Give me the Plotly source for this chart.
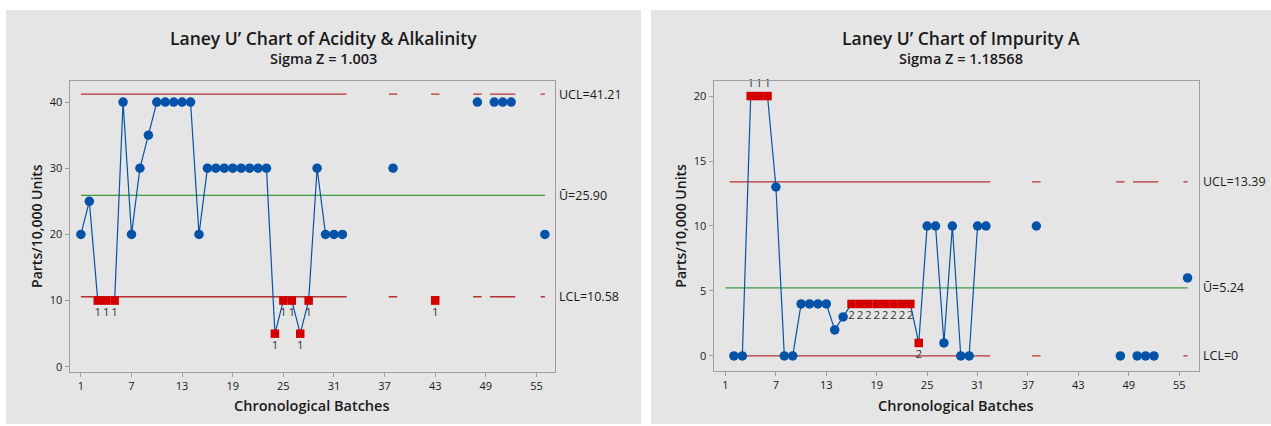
import plotly.graph_objects as go

# ---------------- data ----------------
batches = list(range(1, 57))
tick_batches = [1, 7, 13, 19, 25, 31, 37, 43, 49, 55]

acid_values = [20, 25, 10, 10, 10, 40, 20, 30, 35, 40, 40, 40, 40, 40, 20, 30,
               30, 30, 30, 30, 30, 30, 30, 5, 10, 10, 5, 10, 30, 20, 20, 20,
               None, None, None, None, None, 30, None, None, None, None, 10,
               None, None, None, None, 40, None, 40, 40, 40, None, None, None, 20]
acid_flag_batches = [3, 4, 5, 24, 25, 26, 27, 28, 43]
acid_flag_labels = ["1", "1", "1", "1", "1", "1", "1", "1", "1"]
acid_ucl, acid_center, acid_lcl = 41.21, 25.90, 10.58
acid_limit_labels = ["UCL=41.21", "\u016a=25.90", "LCL=10.58"]

imp_values = [None, 0, 0, 20, 20, 20, 13, 0, 0, 4, 4, 4, 4, 2, 3, 4,
              4, 4, 4, 4, 4, 4, 4, 1, 10, 10, 1, 10, 0, 0, 10, 10,
              None, None, None, None, None, 10, None, None, None, None, None,
              None, None, None, None, 0, None, 0, 0, 0, None, None, None, 6]
imp_flag_batches = [4, 5, 6, 16, 17, 18, 19, 20, 21, 22, 23, 24]
imp_flag_labels = ["1", "1", "1", "2", "2", "2", "2", "2", "2", "2", "2", "2"]
imp_ucl, imp_center, imp_lcl = 13.39, 5.24, 0
imp_limit_labels = ["UCL=13.39", "\u016a=5.24", "LCL=0"]

titles = ["Laney U\u2019 Chart of Acidity & Alkalinity", "Laney U\u2019 Chart of Impurity A"]
subtitles = ["Sigma Z = 1.003", "Sigma Z = 1.18568"]
x_title = "Chronological Batches"
y_title = "Parts/10,000 Units"

# ---------------- style ----------------
W, H = 1271, 426
FONT = "Open Sans, Noto Sans, sans-serif"
BLUE = "#0553a8"
RED = "#d40000"
LIMIT = "#b53030"
GREEN = "#3f9a45"
PANEL = "#e5e5e5"
TXT = "#1a1a1a"


def px_x(p):
    return p / W


def px_y(p):
    return 1 - p / H


def limit_segments(values, level):
    present = [b for b, v in zip(batches, values) if v is not None]
    lo, hi = batches[0], batches[-1]
    xs, ys = [], []
    run_start = prev = present[0]
    for b in present[1:] + [None]:
        if b is not None and b == prev + 1:
            prev = b
            continue
        xs += [max(run_start - 0.5, lo), min(prev + 0.5, hi), None]
        ys += [level, level, None]
        if b is not None:
            run_start = prev = b
    return xs, ys


fig = go.Figure()

panels = [
    dict(values=acid_values, fb=acid_flag_batches, fl=acid_flag_labels,
         lims=(acid_ucl, acid_center, acid_lcl), labs=acid_limit_labels,
         xa="x", ya="y"),
    dict(values=imp_values, fb=imp_flag_batches, fl=imp_flag_labels,
         lims=(imp_ucl, imp_center, imp_lcl), labs=imp_limit_labels,
         xa="x2", ya="y2"),
]

for p in panels:
    ucl, cen, lcl = p["lims"]
    vals = p["values"]
    fig.add_trace(go.Scatter(x=[batches[0], batches[-1]], y=[cen, cen], mode="lines",
                             line=dict(color=GREEN, width=1.3), xaxis=p["xa"], yaxis=p["ya"],
                             hoverinfo="skip", showlegend=False))
    for lvl in (ucl, lcl):
        sx, sy = limit_segments(vals, lvl)
        fig.add_trace(go.Scatter(x=sx, y=sy, mode="lines", line=dict(color=LIMIT, width=1.3),
                                 xaxis=p["xa"], yaxis=p["ya"], connectgaps=False,
                                 hoverinfo="skip", showlegend=False))
    fig.add_trace(go.Scatter(x=batches, y=vals, mode="lines", line=dict(color=BLUE, width=1.2),
                             connectgaps=False, xaxis=p["xa"], yaxis=p["ya"], showlegend=False))
    nx = [b for b, v in zip(batches, vals) if v is not None and b not in p["fb"]]
    ny = [v for b, v in zip(batches, vals) if v is not None and b not in p["fb"]]
    fig.add_trace(go.Scatter(x=nx, y=ny, mode="markers",
                             marker=dict(color=BLUE, size=9.5, symbol="circle"),
                             xaxis=p["xa"], yaxis=p["ya"], showlegend=False))
    fy = [vals[b - 1] for b in p["fb"]]
    tpos = ["top center" if v > ucl else "bottom center" for v in fy]
    fig.add_trace(go.Scatter(x=p["fb"], y=fy, mode="markers+text", text=p["fl"],
                             textposition=tpos, cliponaxis=False,
                             textfont=dict(family=FONT, size=11.5, color="#333333"),
                             marker=dict(color=RED, size=8.5, symbol="square"),
                             xaxis=p["xa"], yaxis=p["ya"], showlegend=False))

axis_common = dict(showgrid=False, zeroline=False, showline=True, mirror=True,
                   linecolor="#9e9e9e", linewidth=1, ticks="outside", ticklen=4,
                   tickcolor="#9e9e9e", tickfont=dict(family=FONT, size=11, color=TXT))

L = dict(x0=69.5, x1=555, y0=81.5, y1=373.5)
R = dict(x0=713.5, x1=1198.5, y0=81.5, y1=373)

fig.update_layout(
    width=W, height=H, margin=dict(l=0, r=0, t=0, b=0),
    paper_bgcolor="white", plot_bgcolor="white", showlegend=False,
    xaxis=dict(domain=[px_x(L["x0"]), px_x(L["x1"])], range=[-0.35, 57.2],
               tickvals=tick_batches, anchor="y", **axis_common),
    yaxis=dict(domain=[px_y(L["y1"]), px_y(L["y0"])], range=[-0.75, 43.16],
               tickvals=[0, 10, 20, 30, 40], anchor="x", **axis_common),
    xaxis2=dict(domain=[px_x(R["x0"]), px_x(R["x1"])], range=[-0.43, 57.3],
                tickvals=tick_batches, anchor="y2", **axis_common),
    yaxis2=dict(domain=[px_y(R["y1"]), px_y(R["y0"])], range=[-1.18, 21.15],
                tickvals=[0, 5, 10, 15, 20], anchor="x2", **axis_common),
)

for x0, x1 in [(6, 641), (651, 1271)]:
    fig.add_shape(type="rect", xref="paper", yref="paper", x0=px_x(x0), x1=px_x(x1),
                  y0=0, y1=px_y(10), fillcolor=PANEL, line=dict(width=0), layer="below")

ann = []
for i, (box, panel_c) in enumerate([(L, 323.5), (R, 961)]):
    ann.append(dict(text=titles[i], x=px_x(panel_c), y=px_y(38), xref="paper", yref="paper",
                    showarrow=False, xanchor="center", yanchor="middle",
                    font=dict(family=FONT, size=17.5, color=TXT, weight=600)))
    ann.append(dict(text=subtitles[i], x=px_x(panel_c), y=px_y(59), xref="paper", yref="paper",
                    showarrow=False, xanchor="center", yanchor="middle",
                    font=dict(family=FONT, size=14.5, color=TXT, weight=600)))
    cx = (box["x0"] + box["x1"]) / 2
    ann.append(dict(text=x_title, x=px_x(cx), y=px_y(407), xref="paper", yref="paper",
                    showarrow=False, xanchor="center", yanchor="middle",
                    font=dict(family=FONT, size=14.5, color=TXT, weight=600)))
    ann.append(dict(text=y_title, x=px_x(box["x0"] - 33), y=px_y((box["y0"] + box["y1"]) / 2),
                    xref="paper", yref="paper", textangle=-90,
                    showarrow=False, xanchor="center", yanchor="middle",
                    font=dict(family=FONT, size=14, color=TXT, weight=600)))

for p, box in zip(panels, [L, R]):
    for lvl, lab in zip(p["lims"], p["labs"]):
        ann.append(dict(text=lab, x=px_x(box["x1"] + 2), y=lvl, xref="paper", yref=p["ya"],
                        showarrow=False, xanchor="left", yanchor="middle",
                        font=dict(family=FONT, size=12.5, color=TXT)))

fig.update_layout(annotations=ann)
fig.write_html("out.html", config={"displayModeBar": False},
               post_script="document.body.style.margin='0';document.body.style.padding='0';")
